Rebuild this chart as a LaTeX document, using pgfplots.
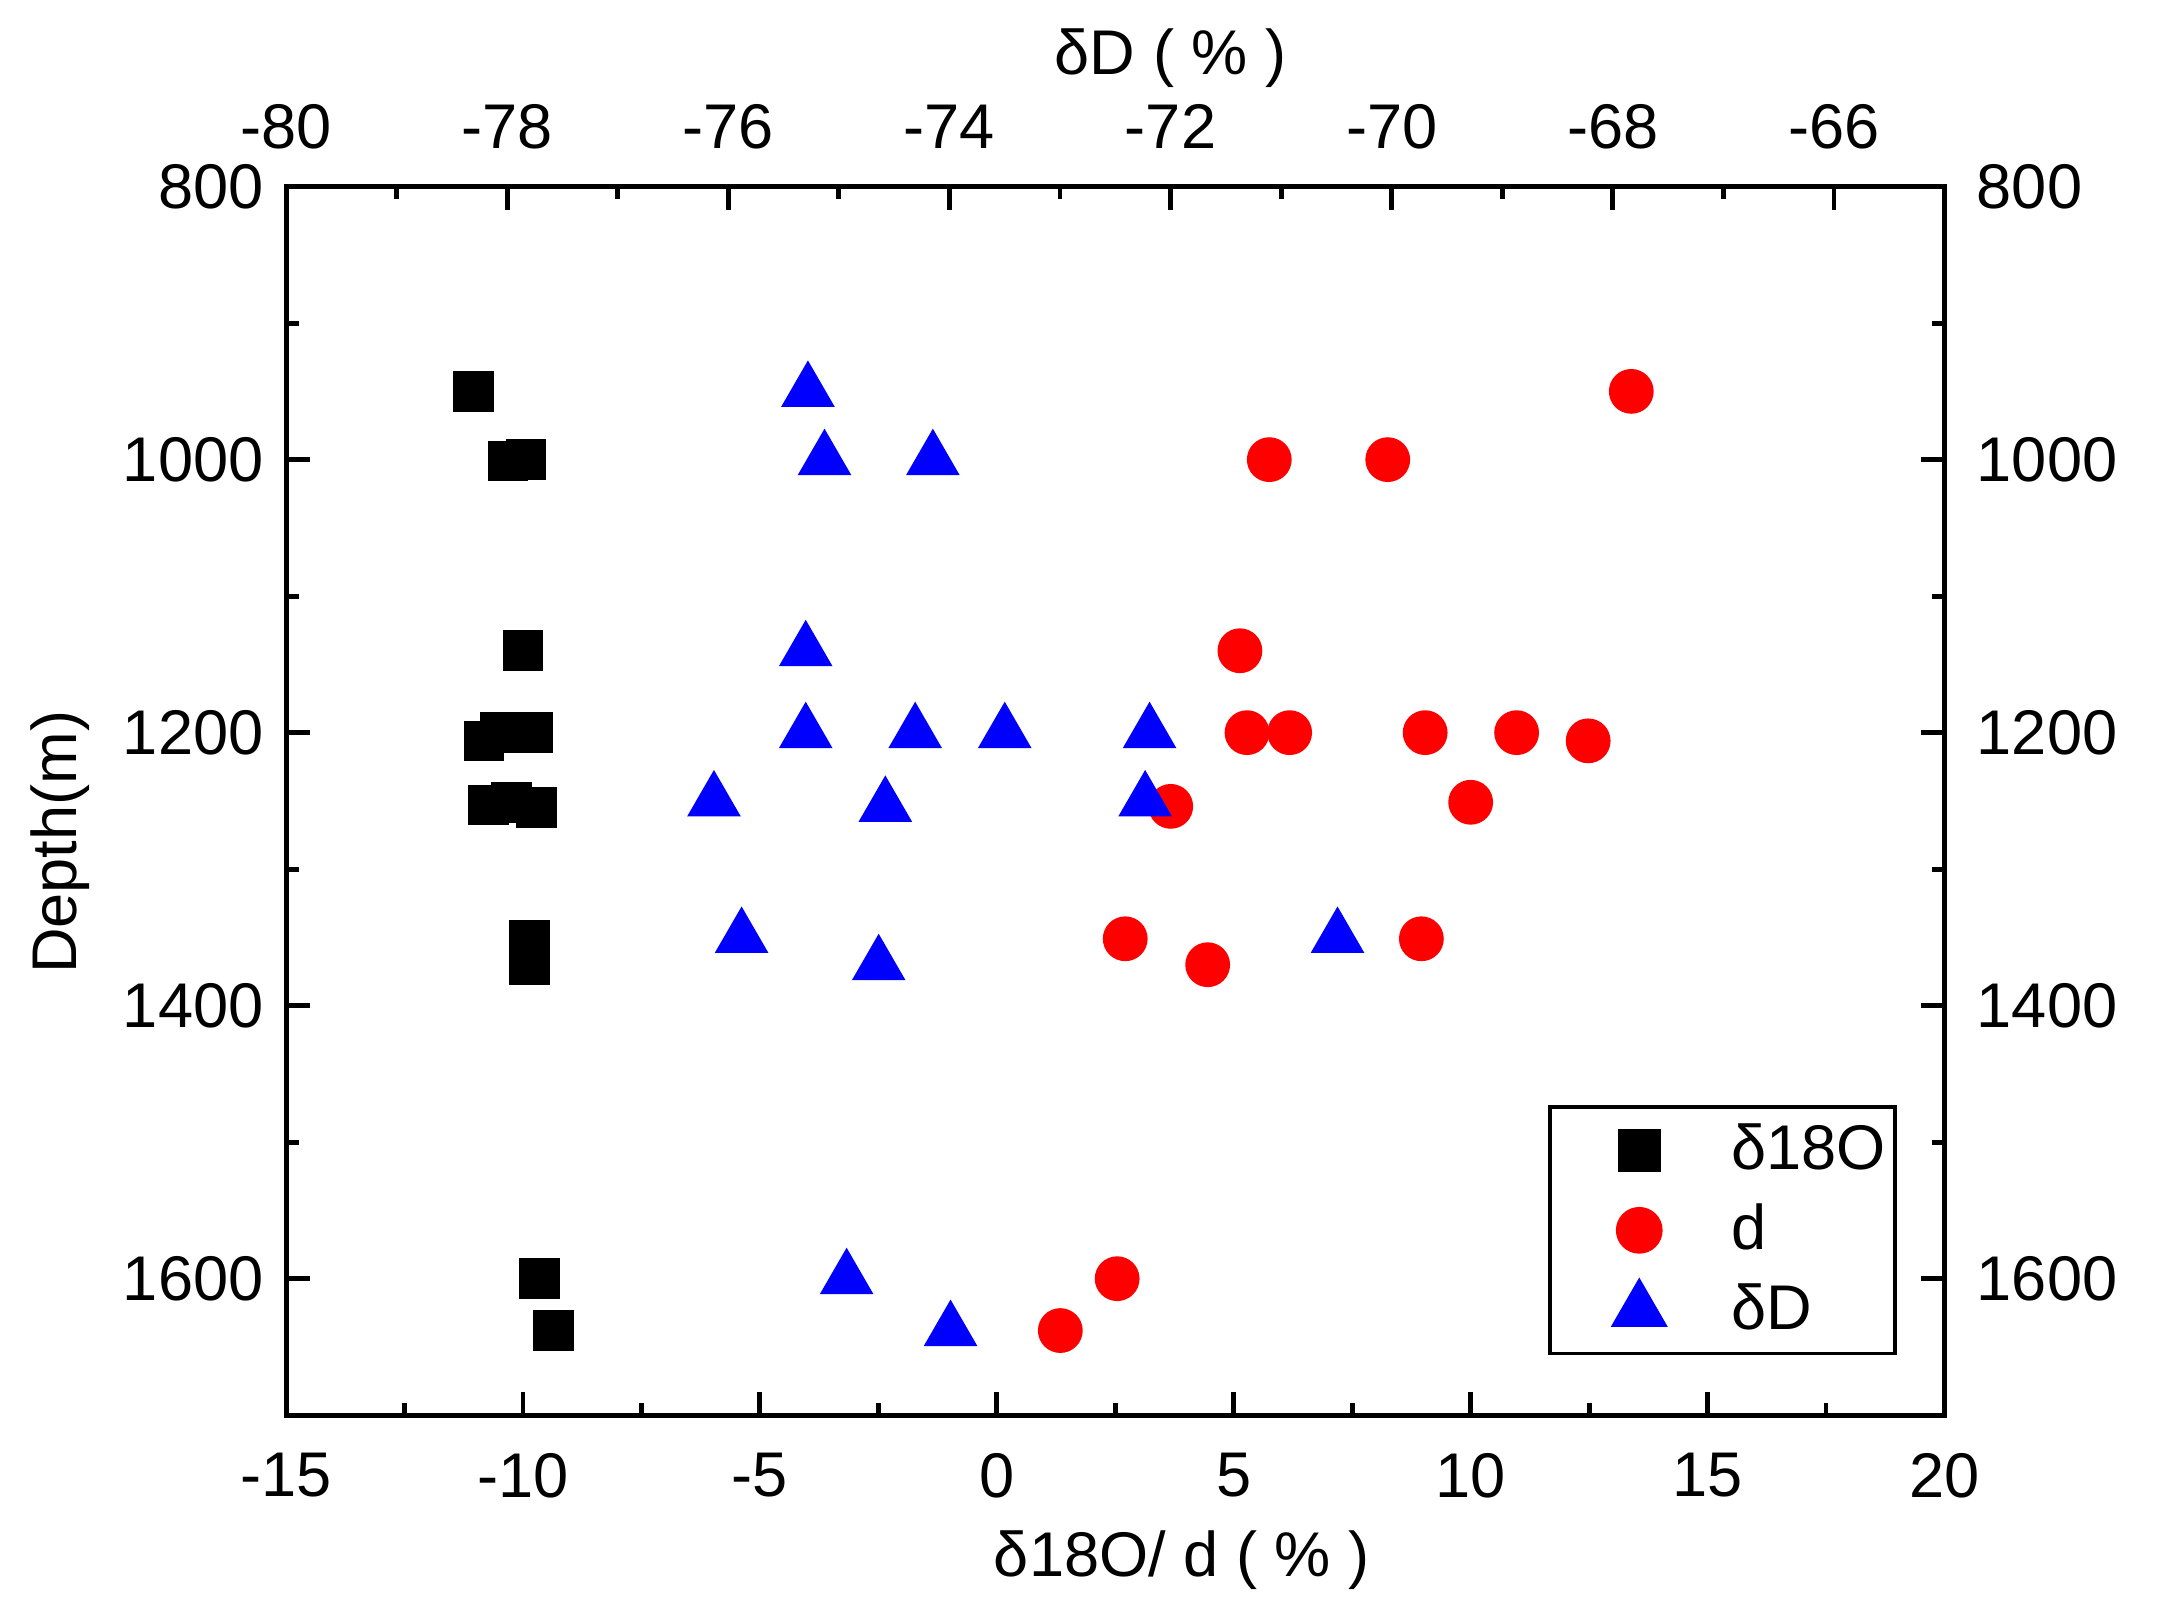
\documentclass[border=0pt]{standalone}
\usepackage{fontspec}
\setmainfont{Liberation Sans}
\usepackage{pgfplots}
\pgfplotsset{compat=1.18}
\begin{document}
\begin{tikzpicture}
\useasboundingbox (-2.07,-1.46) rectangle (13.61,10.24);
\pgfplotsset{
  common/.style={
    width=12cm, height=8.89cm, scale only axis,
    at={(0,0)}, anchor=south west,
    ymin=800, ymax=1700, y dir=reverse,
    font=\fontsize{13}{15.6}\selectfont,
    axis line style={line width=1pt},
    every tick/.style={line width=1pt, black},
    major tick length=0.17cm, minor tick length=0.09cm,
    tick align=inside,
    ytick={800,1000,1200,1400,1600}, yticklabels={800,1000,1200,1400,1600},
    minor ytick={900,1100,1300,1500},
  },
}
\begin{axis}[common,
  xmin=-15, xmax=20,
  xtick={-15,-10,-5,0,5,10,15,20}, xticklabels={-15,-10,-5,0,5,10,15,20},
  minor xtick={-12.5,-7.5,-2.5,2.5,7.5,12.5,17.5},
  xtick pos=left, xticklabel pos=left,
  ytick pos=left, yticklabel pos=left,
  xticklabel shift=0.15cm, yticklabel shift=0.04cm,
  xlabel={δ18O/ d ( \% )},
  xlabel style={xshift=0.48cm},
  ylabel={Depth(m)},
  ylabel style={xshift=-0.3cm},
]
\addplot[only marks, mark=square*, mark size=0.14cm, black, mark options={draw=none}] coordinates {
(-11.05,950) (-10.32,1001) (-9.94,1000) (-10.0,1140) (-10.82,1206) (-10.47,1200) (-9.8,1200)
(-10.73,1253) (-10.24,1251) (-9.71,1255) (-9.86,1352) (-9.86,1370) (-9.65,1600) (-9.36,1638)
};
\addplot[only marks, mark=*, mark size=0.155cm, red, mark options={draw=none}] coordinates {
(13.39,950) (5.75,1000) (8.25,1000) (5.13,1140) (5.28,1200) (6.18,1200) (9.04,1200) (10.97,1200)
(12.48,1206) (3.67,1254) (10.0,1251) (2.71,1351) (4.45,1370) (8.96,1351) (2.54,1600) (1.34,1638)
};
\end{axis}
\begin{axis}[common,
  xmin=-80, xmax=-65,
  xtick={-80,-78,-76,-74,-72,-70,-68,-66}, xticklabels={-80,-78,-76,-74,-72,-70,-68,-66},
  minor xtick={-79,-77,-75,-73,-71,-69,-67},
  xtick pos=right, xticklabel pos=right,
  ytick pos=right, yticklabel pos=right,
  xticklabel shift=0.15cm, yticklabel shift=0.11cm,
  xlabel={δD ( \% )},
  xlabel style={xshift=0.4cm, yshift=-0.12cm},
  legend style={at={(axis description cs:0.9715,0.0486)}, anchor=south east,
    draw=black, line width=0.8pt, inner xsep=0cm, inner ysep=0.05cm,
    font=\fontsize{13}{15.6}\selectfont, row sep=0.055cm},
  legend cell align=left,
  legend image code/.code={\path (-0.63cm,0cm) (0.58cm,0cm); \draw[#1] plot coordinates {(0cm,0cm)};},
]
\addlegendimage{only marks, mark=square*, mark size=0.14cm, black, mark options={draw=none}}
\addlegendimage{only marks, mark=*, mark size=0.155cm, red, mark options={draw=none}}
\addplot[only marks, mark=triangle*, mark size=0.21cm, blue, mark options={draw=none}] coordinates {
(-75.28,950) (-75.13,1000) (-74.15,1000) (-75.30,1140) (-75.30,1200) (-74.31,1200) (-73.5,1200)
(-72.19,1200) (-76.13,1250) (-74.58,1254) (-72.23,1250) (-75.88,1350) (-74.64,1370) (-70.49,1350)
(-74.93,1600) (-73.99,1638)
};
\legend{δ18O, d, δD}
\end{axis}
\end{tikzpicture}
\end{document}
